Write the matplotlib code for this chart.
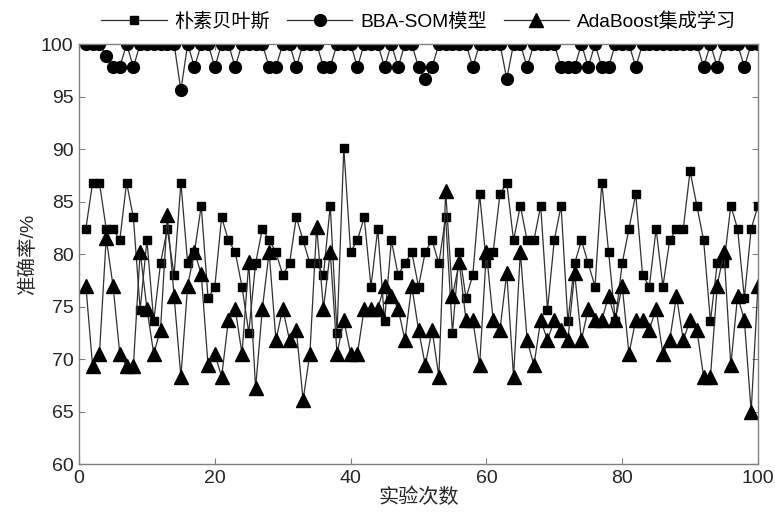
import numpy as np
import matplotlib
matplotlib.use('Agg')
import matplotlib.pyplot as plt

plt.rcParams['font.family'] = ['Liberation Sans', 'Noto Sans CJK SC', 'DejaVu Sans']

runs = np.arange(1, 101)

# 朴素贝叶斯
bayes = [82.4, 86.8, 86.8, 82.4, 82.4, 81.3, 86.8, 83.5, 74.7, 81.3,
         73.6, 79.1, 82.4, 78.0, 86.8, 79.1, 80.2, 84.6, 75.8, 76.9,
         83.5, 81.3, 80.2, 76.9, 72.5, 79.1, 82.4, 81.3, 80.2, 78.0,
         79.1, 83.5, 81.3, 79.1, 79.1, 78.0, 84.6, 72.5, 90.1, 80.2,
         81.3, 83.5, 76.9, 82.4, 73.6, 81.3, 78.0, 79.1, 80.2, 76.9,
         80.2, 81.3, 79.1, 83.5, 72.5, 80.2, 75.8, 78.0, 85.7, 79.1,
         80.2, 85.7, 86.8, 81.3, 84.6, 81.3, 81.3, 84.6, 74.7, 81.3,
         84.6, 73.6, 79.1, 81.3, 79.1, 76.9, 86.8, 80.2, 73.6, 79.1,
         82.4, 85.7, 78.0, 76.9, 82.4, 76.9, 81.3, 82.4, 82.4, 87.9,
         84.6, 81.3, 73.6, 79.1, 79.1, 84.6, 82.4, 75.8, 82.4, 84.6]

# BBA-SOM模型
bba_som = [100, 100, 100, 98.9, 97.8, 97.8, 100, 97.8, 100, 100,
           100, 100, 100, 100, 95.6, 100, 97.8, 100, 100, 97.8,
           100, 100, 97.8, 100, 100, 100, 100, 97.8, 97.8, 100,
           100, 97.8, 100, 100, 100, 97.8, 97.8, 100, 100, 100,
           97.8, 100, 100, 100, 97.8, 100, 97.8, 100, 100, 97.8,
           96.7, 97.8, 100, 100, 100, 100, 100, 97.8, 100, 100,
           100, 100, 96.7, 100, 100, 97.8, 100, 100, 100, 100,
           97.8, 97.8, 97.8, 100, 97.8, 100, 97.8, 97.8, 100, 100,
           100, 97.8, 100, 100, 100, 100, 100, 100, 100, 100,
           100, 97.8, 100, 97.8, 100, 100, 100, 97.8, 100, 100]

# AdaBoost集成学习
adaboost = [77.0, 69.3, 70.5, 81.5, 77.0, 70.5, 69.3, 69.3, 80.2, 74.8,
            70.5, 72.8, 83.7, 76.0, 68.3, 77.0, 80.2, 78.1, 69.4, 70.5,
            68.3, 73.7, 74.8, 70.5, 79.2, 67.2, 74.8, 80.2, 71.8, 74.8,
            71.8, 72.8, 66.1, 70.5, 82.6, 74.8, 80.2, 70.5, 73.7, 70.5,
            70.5, 74.8, 74.8, 74.8, 77.0, 76.0, 74.8, 71.8, 77.0, 72.8,
            69.4, 72.8, 68.3, 86.0, 76.0, 79.2, 73.7, 73.7, 69.4, 80.2,
            73.7, 72.8, 78.2, 68.3, 80.2, 71.8, 69.4, 73.7, 71.8, 73.7,
            72.8, 71.8, 78.2, 71.8, 74.8, 73.7, 73.7, 76.0, 73.7, 77.0,
            70.5, 73.7, 73.7, 72.8, 74.8, 70.5, 71.8, 76.0, 71.8, 73.7,
            72.8, 68.3, 68.3, 77.0, 80.2, 69.4, 76.0, 73.7, 65.0, 77.0]

fig = plt.figure(figsize=(7.75, 5.24), dpi=100)
ax = fig.add_axes([0.102, 0.1145, 0.876, 0.8015])

line_kw = dict(color='#303030', linewidth=0.9, markerfacecolor='black', markeredgecolor='black')
ax.plot(runs, bayes, marker='s', markersize=6, label='朴素贝叶斯', **line_kw)
ax.plot(runs, bba_som, marker='o', markersize=8.5, label='BBA-SOM模型', **line_kw)
ax.plot(runs, adaboost, marker='^', markersize=9.5, label='AdaBoost集成学习', **line_kw)

ax.set_xlim(0, 100)
ax.set_ylim(60, 100)
ax.set_xticks(range(0, 101, 20))
ax.set_yticks(range(60, 101, 5))
ax.tick_params(direction='in', top=True, right=True, labelsize=14, length=4,
               color='#808080', labelcolor='#262626', pad=4)
for sp in ax.spines.values():
    sp.set_color('#808080')
    sp.set_linewidth(1.0)

ax.set_xlabel('实验次数', fontsize=14.5, color='#262626', labelpad=1)
ax.set_ylabel('准确率/%', fontsize=14, color='#262626', labelpad=3)

fig.legend(loc='upper center', bbox_to_anchor=(0.54, 1.01), ncol=3, frameon=False,
           fontsize=13.8, handlelength=3.4, columnspacing=0.9, handletextpad=0.4)

fig.savefig('out.png', dpi=100)
